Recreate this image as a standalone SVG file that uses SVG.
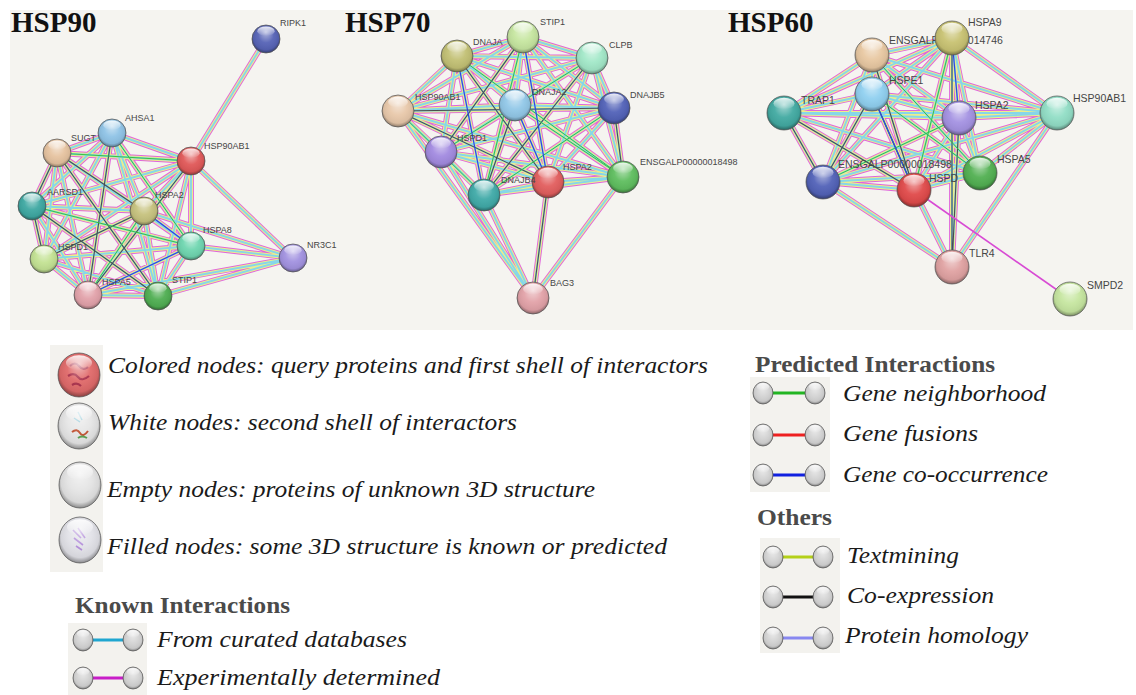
<svg xmlns="http://www.w3.org/2000/svg" xmlns:xlink="http://www.w3.org/1999/xlink" width="1136" height="695" viewBox="0 0 1136 695">
<style>
.ti{font-family:"Liberation Serif","Times New Roman",serif;font-weight:bold;font-size:29px;fill:#111}
.lh{font-family:"Liberation Serif","Times New Roman",serif;font-weight:bold;font-size:24px;fill:#4a4a4a}
.lt{font-family:"Liberation Serif","Times New Roman",serif;font-style:italic;font-size:24px;fill:#1a1a1a}
.n9{font-family:"Liberation Sans",Arial,sans-serif;font-size:9px;fill:#464646}
.n6{font-family:"Liberation Sans",Arial,sans-serif;font-size:10.5px;fill:#464646}
.e{fill:none;stroke-linecap:butt}
.l1{stroke:#e065dc;stroke-width:5.8}
.l2{stroke:#ecee8c;stroke-width:3.9}
.l3{stroke:#86d6ea;stroke-width:1.9}
.lk{fill:none;stroke:#4d4d4d;stroke-width:1.1}
.lg{fill:none;stroke:#39c43c;stroke-width:1}
.lb{fill:none;stroke:#3440e0;stroke-width:1.2}
.lm{fill:none;stroke:#d84ad4;stroke-width:1.6}
.box{fill:#f3f2ee}
</style>
<defs>
<radialGradient id="shade" cx="0.5" cy="0.47" r="0.55" fx="0.5" fy="0.25">
<stop offset="0" stop-color="#fff" stop-opacity="0.55"/>
<stop offset="0.5" stop-color="#fff" stop-opacity="0.05"/>
<stop offset="0.82" stop-color="#000" stop-opacity="0.06"/>
<stop offset="1" stop-color="#000" stop-opacity="0.45"/>
</radialGradient>
<linearGradient id="hl" x1="0" y1="0" x2="0" y2="1">
<stop offset="0" stop-color="#fff" stop-opacity="0.9"/>
<stop offset="1" stop-color="#fff" stop-opacity="0"/>
</linearGradient>
<g id="gloss">
<circle r="1" fill="url(#shade)" stroke="#555" stroke-opacity="0.75" stroke-width="1" vector-effect="non-scaling-stroke"/>
<ellipse cy="-0.56" rx="0.62" ry="0.34" fill="url(#hl)"/>
</g>
<g id="gball">
<circle r="1" fill="#d4d4d4"/>
<use href="#gloss"/>
</g>
<path id="e90" d="M112 133L57 153M112 133L191 161M112 133L32 206M112 133L144 211M112 133L191 246M112 133L44 259M112 133L88 295M112 133L158 296M57 153L191 161M57 153L32 206M57 153L144 211M57 153L191 246M57 153L44 259M57 153L88 295M57 153L158 296M191 161L32 206M191 161L144 211M191 161L191 246M191 161L44 259M191 161L88 295M191 161L158 296M32 206L144 211M32 206L191 246M32 206L44 259M32 206L88 295M32 206L158 296M144 211L191 246M144 211L44 259M144 211L88 295M144 211L158 296M191 246L44 259M191 246L88 295M191 246L158 296M44 259L88 295M44 259L158 296M88 295L158 296M266 39L191 161M293 258L191 161M293 258L191 246M293 258L144 211M293 258L158 296M293 258L88 295"/>
<path id="e70" d="M523 37L457 56M523 37L592 58M523 37L398 111M523 37L515 105M523 37L614 108M523 37L441 152M523 37L548 182M523 37L484 195M523 37L623 177M457 56L592 58M457 56L398 111M457 56L515 105M457 56L614 108M457 56L441 152M457 56L548 182M457 56L484 195M457 56L623 177M592 58L398 111M592 58L515 105M592 58L614 108M592 58L441 152M592 58L548 182M592 58L484 195M592 58L623 177M398 111L515 105M398 111L614 108M398 111L441 152M398 111L548 182M398 111L484 195M398 111L623 177M515 105L614 108M515 105L441 152M515 105L548 182M515 105L484 195M515 105L623 177M614 108L441 152M614 108L548 182M614 108L484 195M614 108L623 177M441 152L548 182M441 152L484 195M441 152L623 177M548 182L484 195M548 182L623 177M484 195L623 177M533 298L398 111M533 298L441 152M533 298L484 195M533 298L548 182M533 298L623 177"/>
<path id="e60" d="M952 38L872 55M952 38L872 94M952 38L784 113M952 38L959 118M952 38L1057 113M952 38L980 173M952 38L823 182M952 38L914 190M872 55L872 94M872 55L784 113M872 55L959 118M872 55L1057 113M872 55L980 173M872 55L823 182M872 55L914 190M872 94L784 113M872 94L959 118M872 94L1057 113M872 94L980 173M872 94L823 182M872 94L914 190M784 113L959 118M784 113L1057 113M784 113L980 173M784 113L823 182M784 113L914 190M959 118L1057 113M959 118L980 173M959 118L823 182M959 118L914 190M1057 113L980 173M1057 113L823 182M1057 113L914 190M980 173L823 182M980 173L914 190M823 182L914 190M952 267L914 190M952 267L823 182M952 267L959 118M952 267L952 38M952 267L1057 113"/>
</defs>

<rect x="10" y="10" width="1123" height="320" fill="#f5f4f0"/>

<g id="titles">
<text class="ti" x="11" y="32">HSP90</text>
<text class="ti" x="345" y="32">HSP70</text>
<text class="ti" x="728" y="32">HSP60</text>
</g>

<g id="connectors">
<use href="#e90" class="e l1"/><use href="#e90" class="e l2"/><use href="#e90" class="e l3"/>
<path class="lk" d="M57 153L144 211M57 153L158 296M112 133L88 295M32 206L158 296M44 259L144 211M191 161L88 295M32 206L44 259M57 153L32 206"/>
<path class="lg" d="M112 133L191 246M57 153L191 161M144 211L88 295M32 206L191 246"/>
<path class="lb" d="M88 295L191 246M144 211L191 246"/>
<use href="#e70" class="e l1"/><use href="#e70" class="e l2"/><use href="#e70" class="e l3"/>
<path class="lk" d="M523 37L441 152M457 56L548 182M398 111L548 182M515 105L484 195M592 58L484 195M548 182L533 298M614 108L623 177M398 111L614 108"/>
<path class="lg" d="M523 37L484 195M592 58L441 152M515 105L623 177M457 56L623 177M398 111L484 195M614 108L484 195"/>
<path class="lb" d="M457 56L484 195M515 105L548 182M523 37L548 182"/>
<use href="#e60" class="e l1"/><use href="#e60" class="e l2"/><use href="#e60" class="e l3"/>
<path class="lk" d="M872 55L914 190M872 94L823 182M784 113L914 190M952 38L952 267M959 118L952 267M872 94L914 190M784 113L823 182"/>
<path class="lg" d="M872 94L914 190M872 55L980 173M952 38L914 190M823 182L959 118M872 94L980 173"/>
<path class="lb" d="M952 38L959 118M872 94L914 190"/>
<path class="lm" d="M1070 299L914 190"/>
</g>

<g id="hsp90-ripk1"><text class="n9" x="280" y="26">RIPK1</text><circle cx="266" cy="39" r="14" fill="#5663b6"/><use href="#gloss" transform="translate(266 39) scale(14)"/></g>
<g id="hsp90-ahsa1"><text class="n9" x="125" y="121">AHSA1</text><circle cx="112" cy="133" r="14" fill="#8fc3e6"/><use href="#gloss" transform="translate(112 133) scale(14)"/></g>
<g id="hsp90-sugt"><text class="n9" x="71" y="141">SUGT</text><circle cx="57" cy="153" r="14" fill="#e6c3a0"/><use href="#gloss" transform="translate(57 153) scale(14)"/></g>
<g id="hsp90-hsp90ab1"><text class="n9" x="204" y="149">HSP90AB1</text><circle cx="191" cy="161" r="14" fill="#e05858"/><use href="#gloss" transform="translate(191 161) scale(14)"/></g>
<g id="hsp90-aarsd1"><text class="n9" x="47" y="195">AARSD1</text><circle cx="32" cy="206" r="14" fill="#3ea8a2"/><use href="#gloss" transform="translate(32 206) scale(14)"/></g>
<g id="hsp90-hspa2"><text class="n9" x="155" y="198">HSPA2</text><circle cx="144" cy="211" r="14" fill="#c6c27e"/><use href="#gloss" transform="translate(144 211) scale(14)"/></g>
<g id="hsp90-hspa8"><text class="n9" x="203" y="233">HSPA8</text><circle cx="191" cy="246" r="14" fill="#6fd6b0"/><use href="#gloss" transform="translate(191 246) scale(14)"/></g>
<g id="hsp90-nr3c1"><text class="n9" x="307" y="248">NR3C1</text><circle cx="293" cy="258" r="14" fill="#a292e0"/><use href="#gloss" transform="translate(293 258) scale(14)"/></g>
<g id="hsp90-hspd1"><text class="n9" x="58" y="250">HSPD1</text><circle cx="44" cy="259" r="14" fill="#c3e293"/><use href="#gloss" transform="translate(44 259) scale(14)"/></g>
<g id="hsp90-hspa5"><text class="n9" x="102" y="285">HSPA5</text><circle cx="88" cy="295" r="14" fill="#e2a2aa"/><use href="#gloss" transform="translate(88 295) scale(14)"/></g>
<g id="hsp90-stip1"><text class="n9" x="172" y="283">STIP1</text><circle cx="158" cy="296" r="14" fill="#4fae52"/><use href="#gloss" transform="translate(158 296) scale(14)"/></g>

<g id="hsp70-dnaja"><text class="n9" x="473" y="45">DNAJA</text><circle cx="457" cy="56" r="16" fill="#c2c074"/><use href="#gloss" transform="translate(457 56) scale(16)"/></g>
<g id="hsp70-stip1"><text class="n9" x="540" y="25">STIP1</text><circle cx="523" cy="37" r="16" fill="#c6e6a0"/><use href="#gloss" transform="translate(523 37) scale(16)"/></g>
<g id="hsp70-clpb"><text class="n9" x="609" y="48">CLPB</text><circle cx="592" cy="58" r="16" fill="#a2e8c8"/><use href="#gloss" transform="translate(592 58) scale(16)"/></g>
<g id="hsp70-hsp90ab1"><text class="n9" x="415" y="100">HSP90AB1</text><circle cx="398" cy="111" r="16" fill="#e8c8aa"/><use href="#gloss" transform="translate(398 111) scale(16)"/></g>
<g id="hsp70-dnaja2"><text class="n9" x="532" y="95">DNAJA2</text><circle cx="515" cy="105" r="16" fill="#92c8e8"/><use href="#gloss" transform="translate(515 105) scale(16)"/></g>
<g id="hsp70-dnajb5"><text class="n9" x="630" y="98">DNAJB5</text><circle cx="614" cy="108" r="16" fill="#5262b8"/><use href="#gloss" transform="translate(614 108) scale(16)"/></g>
<g id="hsp70-hspd1"><text class="n9" x="457" y="141">HSPD1</text><circle cx="441" cy="152" r="16" fill="#a28ae0"/><use href="#gloss" transform="translate(441 152) scale(16)"/></g>
<g id="hsp70-ensgalp00000018498"><text class="n9" x="640" y="165">ENSGALP00000018498</text><circle cx="623" cy="177" r="16" fill="#5fbe5f"/><use href="#gloss" transform="translate(623 177) scale(16)"/></g>
<g id="hsp70-hspa2"><text class="n9" x="563" y="170">HSPA2</text><circle cx="548" cy="182" r="16" fill="#e25e5e"/><use href="#gloss" transform="translate(548 182) scale(16)"/></g>
<g id="hsp70-dnajb4"><text class="n9" x="501" y="183">DNAJB4</text><circle cx="484" cy="195" r="16" fill="#40aaa8"/><use href="#gloss" transform="translate(484 195) scale(16)"/></g>
<g id="hsp70-bag3"><text class="n9" x="550" y="286">BAG3</text><circle cx="533" cy="298" r="16" fill="#e2a2a8"/><use href="#gloss" transform="translate(533 298) scale(16)"/></g>

<g id="hsp60-ensgalp00000014746"><text class="n6" x="889" y="44">ENSGALP00000014746</text><circle cx="872" cy="55" r="17" fill="#e8c8a2"/><use href="#gloss" transform="translate(872 55) scale(17)"/></g>
<g id="hsp60-hspa9"><text class="n6" x="968" y="26">HSPA9</text><circle cx="952" cy="38" r="17" fill="#c8c272"/><use href="#gloss" transform="translate(952 38) scale(17)"/></g>
<g id="hsp60-hspe1"><text class="n6" x="889" y="84">HSPE1</text><circle cx="872" cy="94" r="17" fill="#90d0f0"/><use href="#gloss" transform="translate(872 94) scale(17)"/></g>
<g id="hsp60-trap1"><text class="n6" x="801" y="104">TRAP1</text><circle cx="784" cy="113" r="17" fill="#42aaa2"/><use href="#gloss" transform="translate(784 113) scale(17)"/></g>
<g id="hsp60-hspa2"><text class="n6" x="975" y="109">HSPA2</text><circle cx="959" cy="118" r="17" fill="#a492e2"/><use href="#gloss" transform="translate(959 118) scale(17)"/></g>
<g id="hsp60-hsp90ab1"><text class="n6" x="1073" y="102">HSP90AB1</text><circle cx="1057" cy="113" r="17" fill="#92dec6"/><use href="#gloss" transform="translate(1057 113) scale(17)"/></g>
<g id="hsp60-ensgalp00000018498"><text class="n6" x="838" y="168">ENSGALP00000018498</text><circle cx="823" cy="182" r="17" fill="#5262b8"/><use href="#gloss" transform="translate(823 182) scale(17)"/></g>
<g id="hsp60-hspd"><text class="n6" x="929" y="182">HSPD</text><circle cx="914" cy="190" r="17" fill="#e04a4a"/><use href="#gloss" transform="translate(914 190) scale(17)"/></g>
<g id="hsp60-hspa5"><text class="n6" x="997" y="163">HSPA5</text><circle cx="980" cy="173" r="17" fill="#52b052"/><use href="#gloss" transform="translate(980 173) scale(17)"/></g>
<g id="hsp60-tlr4"><text class="n6" x="969" y="257">TLR4</text><circle cx="952" cy="267" r="17" fill="#e0a2a2"/><use href="#gloss" transform="translate(952 267) scale(17)"/></g>
<g id="hsp60-smpd2"><text class="n6" x="1087" y="289">SMPD2</text><circle cx="1070" cy="299" r="17" fill="#c6e6a0"/><use href="#gloss" transform="translate(1070 299) scale(17)"/></g>

<g id="legend-nodes">
<rect class="box" x="50" y="345" width="53" height="227"/>
<g id="leg-colored"><ellipse cx="79" cy="375" rx="21" ry="22" fill="#e06a6a"/><path d="M70 366q5-5 9 0t9 1M68 376q6-4 10 1t11-1M72 385q5-3 9 1" fill="none" stroke="#a8304a" stroke-width="2.2"/><use href="#gloss" transform="translate(79 375) scale(21 22)"/></g>
<g id="leg-white"><ellipse cx="79" cy="426" rx="21" ry="23" fill="#e6e6e6"/><path d="M78 412l4 8M74 418l6 4" stroke="#8cc8d8" stroke-width="1.5" fill="none"/><path d="M72 432q5-4 8 1t8-2" stroke="#c05030" stroke-width="2" fill="none"/><path d="M78 438q4-3 9 0" stroke="#58a050" stroke-width="2" fill="none"/><use href="#gloss" transform="translate(79 426) scale(21 23)"/></g>
<g id="leg-empty"><ellipse cx="80" cy="485" rx="21" ry="23" fill="#e4e4e4"/><use href="#gloss" transform="translate(80 485) scale(21 23)"/></g>
<g id="leg-filled"><ellipse cx="80" cy="540" rx="21" ry="23" fill="#e2e2e8"/><path d="M73 530l8 8M74 538l9 7M78 528l7 10M76 546l6 4" stroke="#b08ad8" stroke-width="1.6" fill="none"/><use href="#gloss" transform="translate(80 540) scale(21 23)"/></g>
<text class="lt" x="108" y="373" textLength="600" lengthAdjust="spacingAndGlyphs">Colored nodes: query proteins and first shell of interactors</text>
<text class="lt" x="108" y="430" textLength="409" lengthAdjust="spacingAndGlyphs">White nodes: second shell of interactors</text>
<text class="lt" x="107" y="497" textLength="488" lengthAdjust="spacingAndGlyphs">Empty nodes: proteins of unknown 3D structure</text>
<text class="lt" x="107" y="554" textLength="560" lengthAdjust="spacingAndGlyphs">Filled nodes: some 3D structure is known or predicted</text>
</g>

<g id="legend-known">
<text class="lh" x="75" y="613" textLength="215" lengthAdjust="spacingAndGlyphs">Known Interactions</text>
<rect class="box" x="68" y="623" width="79" height="72"/>
<line x1="92" y1="640" x2="124" y2="640" stroke="#1fa6d0" stroke-width="3"/>
<use href="#gball" transform="translate(83 640) scale(10 11)"/><use href="#gball" transform="translate(133 640) scale(10 11)"/>
<line x1="92" y1="678" x2="124" y2="678" stroke="#c81ec8" stroke-width="3"/>
<use href="#gball" transform="translate(83 678) scale(10 11)"/><use href="#gball" transform="translate(133 678) scale(10 11)"/>
<text class="lt" x="157" y="647" textLength="250" lengthAdjust="spacingAndGlyphs">From curated databases</text>
<text class="lt" x="157" y="685" textLength="283" lengthAdjust="spacingAndGlyphs">Experimentally determined</text>
</g>

<g id="legend-predicted">
<text class="lh" x="755" y="372" textLength="240" lengthAdjust="spacingAndGlyphs">Predicted Interactions</text>
<rect class="box" x="750" y="377" width="80" height="115"/>
<line x1="772" y1="393" x2="806" y2="393" stroke="#22b522" stroke-width="3"/>
<use href="#gball" transform="translate(763 393) scale(10 11)"/><use href="#gball" transform="translate(815 393) scale(10 11)"/>
<line x1="772" y1="435" x2="806" y2="435" stroke="#ee2020" stroke-width="3"/>
<use href="#gball" transform="translate(763 435) scale(10 11)"/><use href="#gball" transform="translate(815 435) scale(10 11)"/>
<line x1="772" y1="475" x2="806" y2="475" stroke="#1020e0" stroke-width="3"/>
<use href="#gball" transform="translate(763 475) scale(10 11)"/><use href="#gball" transform="translate(815 475) scale(10 11)"/>
<text class="lt" x="843" y="401" textLength="203" lengthAdjust="spacingAndGlyphs">Gene neighborhood</text>
<text class="lt" x="843" y="441" textLength="135" lengthAdjust="spacingAndGlyphs">Gene fusions</text>
<text class="lt" x="843" y="482" textLength="205" lengthAdjust="spacingAndGlyphs">Gene co-occurrence</text>
</g>

<g id="legend-others">
<text class="lh" x="757" y="525" textLength="75" lengthAdjust="spacingAndGlyphs">Others</text>
<rect class="box" x="760" y="538" width="80" height="115"/>
<line x1="782" y1="557" x2="814" y2="557" stroke="#b4d018" stroke-width="3"/>
<use href="#gball" transform="translate(773 557) scale(10 11)"/><use href="#gball" transform="translate(823 557) scale(10 11)"/>
<line x1="782" y1="597" x2="814" y2="597" stroke="#111" stroke-width="3"/>
<use href="#gball" transform="translate(773 597) scale(10 11)"/><use href="#gball" transform="translate(823 597) scale(10 11)"/>
<line x1="782" y1="638" x2="814" y2="638" stroke="#8888f0" stroke-width="3"/>
<use href="#gball" transform="translate(773 638) scale(10 11)"/><use href="#gball" transform="translate(823 638) scale(10 11)"/>
<text class="lt" x="847" y="563" textLength="112" lengthAdjust="spacingAndGlyphs">Textmining</text>
<text class="lt" x="847" y="603" textLength="147" lengthAdjust="spacingAndGlyphs">Co-expression</text>
<text class="lt" x="845" y="643" textLength="183" lengthAdjust="spacingAndGlyphs">Protein homology</text>
</g>
</svg>
